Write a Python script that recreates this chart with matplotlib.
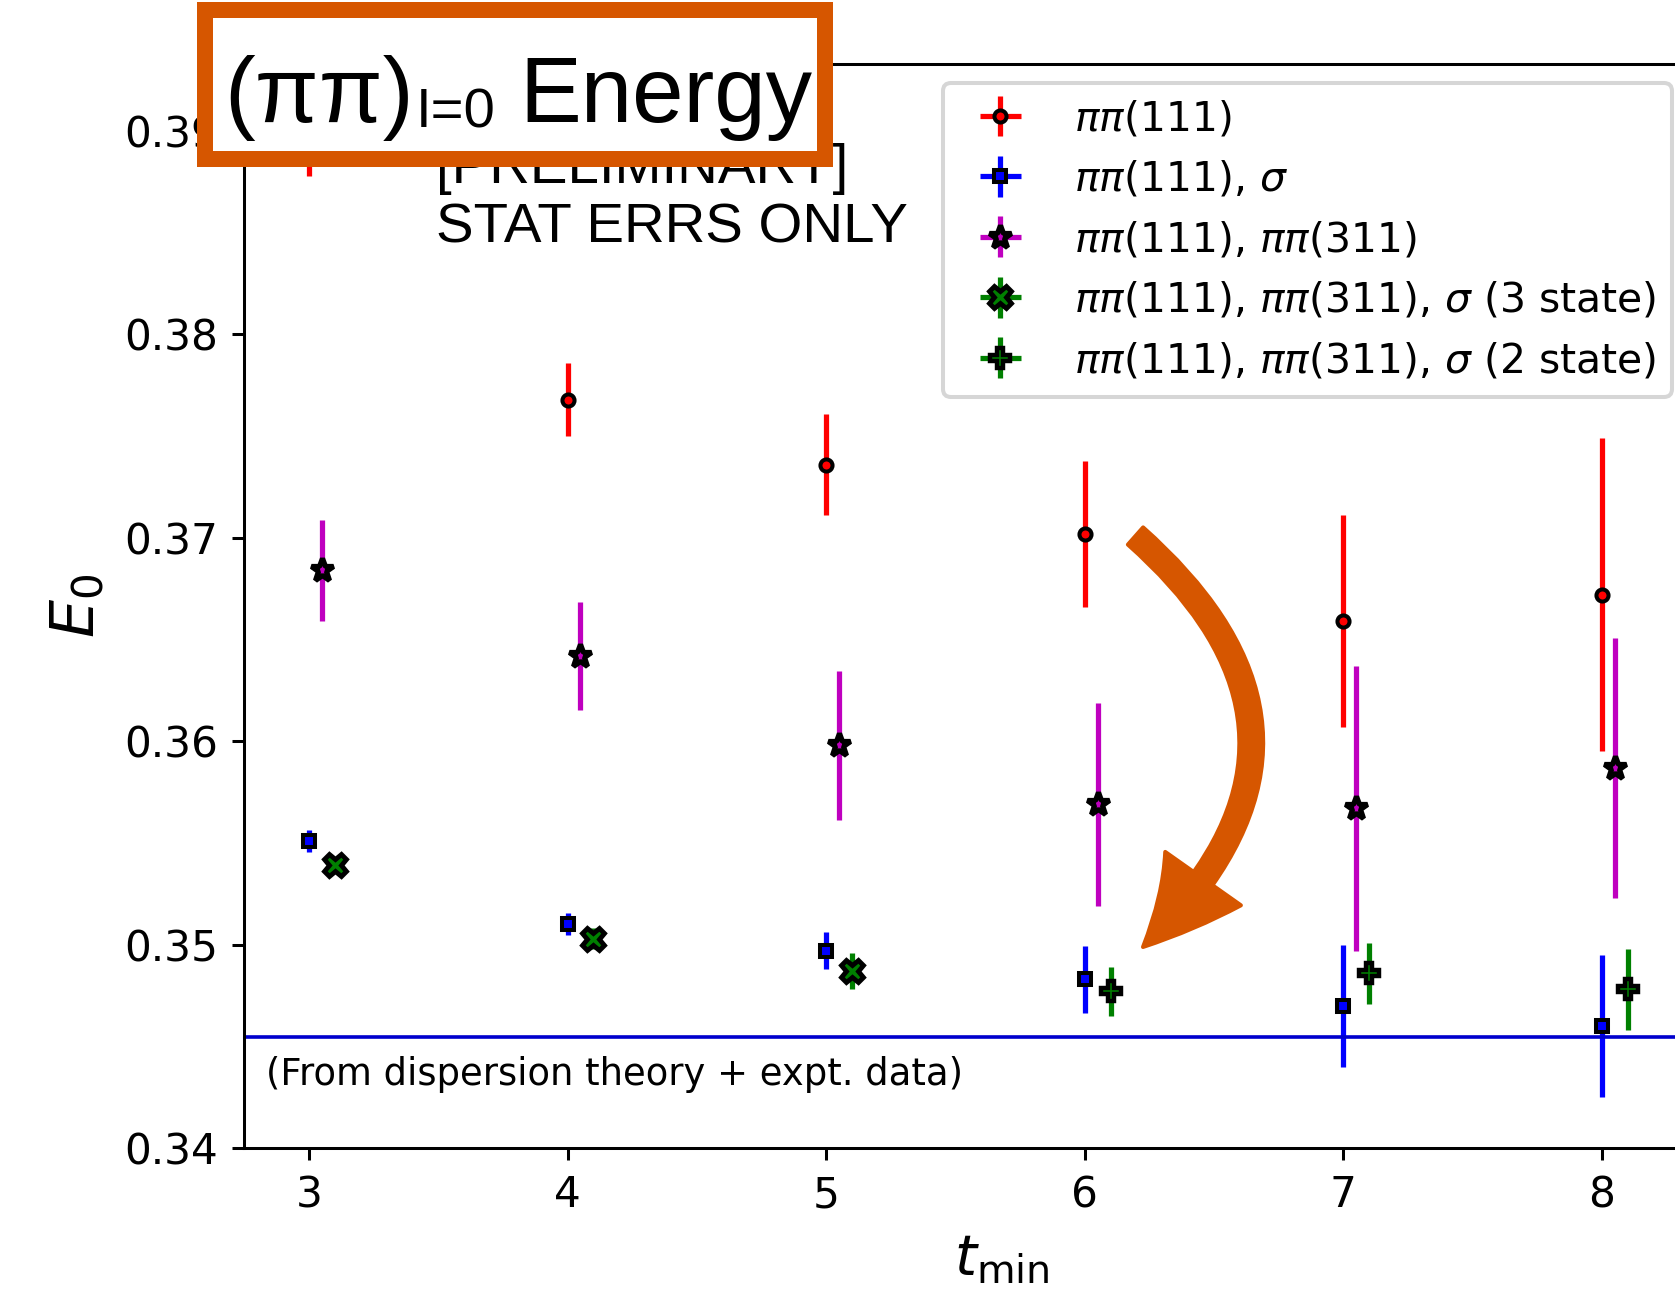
import matplotlib
matplotlib.use('Agg')
import matplotlib.pyplot as plt
from matplotlib.patches import Rectangle, FancyArrowPatch
from matplotlib.text import Annotation

# t_min values and fitted ground-state energies
tmin = [3, 4, 5, 6, 7, 8]

e_pp = [0.3915, 0.3768, 0.3736, 0.3702, 0.3659, 0.3672]
err_pp = [0.0037, 0.0018, 0.0025, 0.0036, 0.0052, 0.0077]

e_pp_sig = [0.3551, 0.3510, 0.3497, 0.3483, 0.3470, 0.3460]
err_pp_sig = [0.00055, 0.00055, 0.0009, 0.00165, 0.003, 0.0035]

e_pp_pp311 = [0.3684, 0.3642, 0.3598, 0.3569, 0.3567, 0.3587]
err_pp_pp311 = [0.0025, 0.00265, 0.00365, 0.005, 0.007, 0.0064]

tmin_3st = [3, 4, 5]
e_3st = [0.3539, 0.3503, 0.3487]
err_3st = [0.0003, 0.0005, 0.00087]

tmin_2st = [6, 7, 8]
e_2st = [0.3477, 0.3486, 0.3478]
err_2st = [0.0012, 0.0015, 0.002]

e_disp = 0.34546

orange = '#d65600'
W, H, DPI = 1676, 1289, 290

fig = plt.figure(figsize=(W / DPI, H / DPI), dpi=DPI)
# axes runs past the right edge of the picture (cropped original)
ax = fig.add_axes([244 / W, 1 - 1148 / H, (1760 - 244) / W, (1148 - 64) / H])

common = dict(capsize=0, elinewidth=1.3, mec='k', linestyle='none')
ax.errorbar(tmin, e_pp, yerr=err_pp, xerr=0, fmt='o', color='r', ms=3, mew=1.0,
            label=r'$\pi\pi(111)$', **common)
ax.errorbar(tmin, e_pp_sig, yerr=err_pp_sig, xerr=0, fmt='s', color='b', ms=3,
            mew=1.0, label=r'$\pi\pi(111)$, $\sigma$', **common)
ax.errorbar([t + 0.05 for t in tmin], e_pp_pp311, yerr=err_pp_pp311, xerr=0,
            fmt='*', color='m', ms=6, mew=1.3,
            label=r'$\pi\pi(111)$, $\pi\pi(311)$', **common)
ax.errorbar([t + 0.1 for t in tmin_3st], e_3st, yerr=err_3st, xerr=0,
            fmt='X', color='g', ms=5.5, mew=1.2,
            label=r'$\pi\pi(111)$, $\pi\pi(311)$, $\sigma$ (3 state)', **common)
ax.errorbar([t + 0.1 for t in tmin_2st], e_2st, yerr=err_2st, xerr=0,
            fmt='P', color='g', ms=5, mew=1.1,
            label=r'$\pi\pi(111)$, $\pi\pi(311)$, $\sigma$ (2 state)', **common)

ax.axhline(e_disp, color='mediumblue', lw=0.9)
ax.text(2.834, 0.3431, '(From dispersion theory + expt. data)',
        fontsize=9.15, va='baseline')
ax.text(3.491, 0.38744, '[PRELIMINARY]', family='Liberation Sans',
        fontsize=14, va='baseline')
ax.text(3.491, 0.38454, 'STAT ERRS ONLY', family='Liberation Sans',
        fontsize=14, va='baseline')

ax.set_xlim(2.749, 8.611)
ax.set_ylim(0.34, 0.3933)
ax.set_xticks(tmin)
ax.set_yticks([0.34, 0.35, 0.36, 0.37, 0.38, 0.39])
ax.tick_params(labelsize=10.5, length=3, width=0.75)
for s in ax.spines.values():
    s.set_linewidth(0.75)
ax.set_xlabel(r'$t_{\rm min}$', fontsize=14)
ax.set_ylabel(r'$E_0$', fontsize=15)

ax.legend(loc='upper right', bbox_to_anchor=(1672 / W, 1 - 83 / H),
          bbox_transform=fig.transFigure, borderaxespad=0, fontsize=10.15)

# title box overlay
fig.add_artist(Rectangle((205 / W, 1 - 159 / H), 620 / W, 149 / H,
                         transform=fig.transFigure, fc='white', ec=orange,
                         lw=16 * 72 / DPI, zorder=5))
t1 = fig.text(224 / W, 1 - 122 / H, '(ππ)', fontsize=23,
              family='Liberation Sans', va='baseline', zorder=6)
t2 = Annotation('I=0', xy=(1, H - 127), xycoords=(t1, 'figure pixels'),
                xytext=(2, 0), textcoords='offset pixels', fontsize=14,
                family='Liberation Sans', va='baseline', zorder=6)
fig.add_artist(t2)
t3 = Annotation('Energy', xy=(1, H - 122), xycoords=(t2, 'figure pixels'),
                xytext=(24, 0), textcoords='offset pixels', fontsize=23,
                family='Liberation Sans', va='baseline', zorder=6)
fig.add_artist(t3)

# curved arrow
arrow = FancyArrowPatch((1135.5 / W, 1 - 536 / H), (1143 / W, 1 - 947 / H),
                        transform=fig.transFigure,
                        connectionstyle='arc3,rad=-0.545',
                        arrowstyle='simple,head_length=22.6,head_width=23,tail_width=5.7',
                        mutation_scale=1, color=orange, shrinkA=0, shrinkB=0,
                        zorder=5)
fig.add_artist(arrow)

fig.savefig('out.png', dpi=DPI)
